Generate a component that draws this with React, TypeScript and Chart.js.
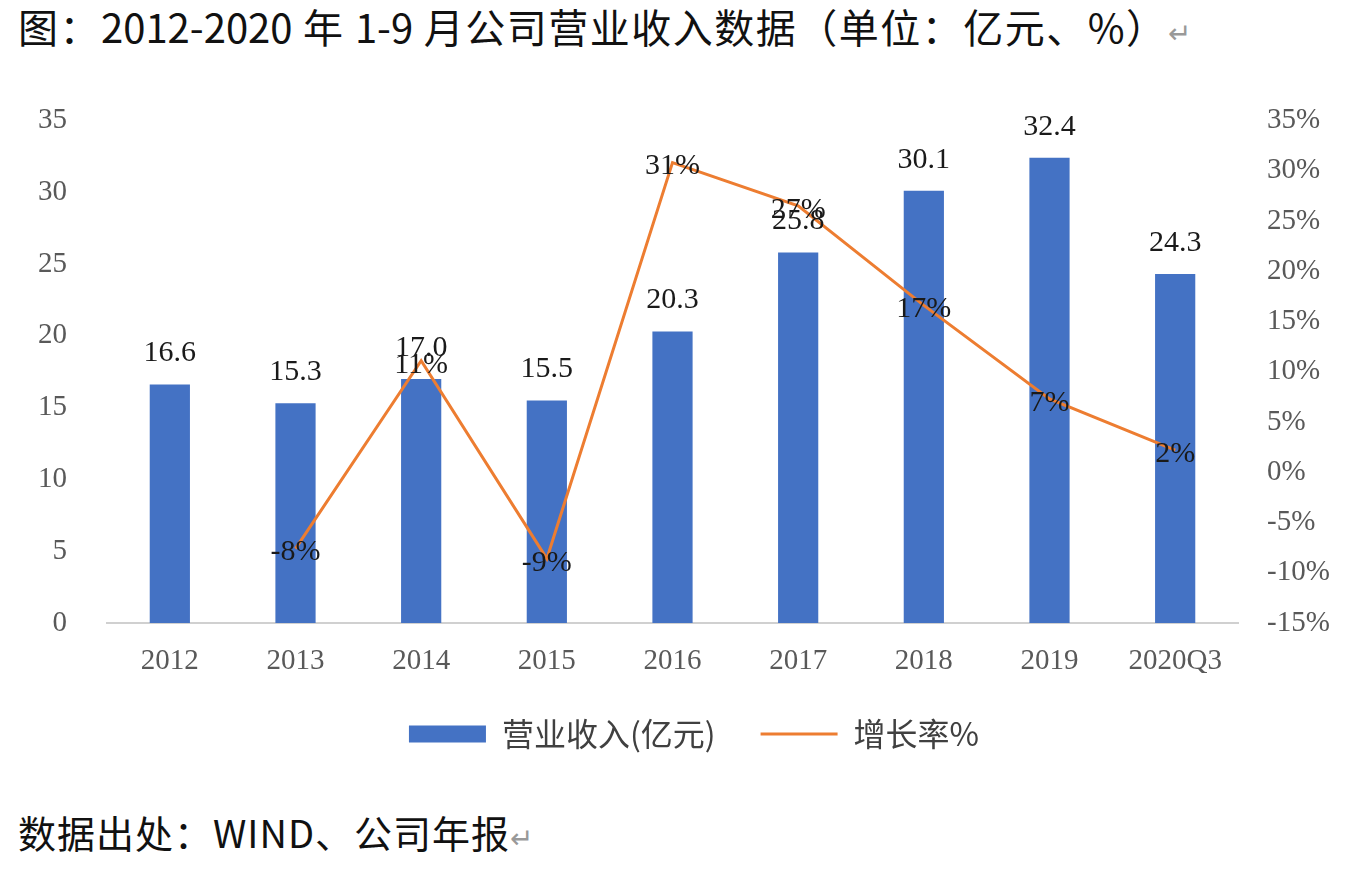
import React, { useEffect, useRef } from 'react';
import { Chart, registerables } from 'chart.js';

Chart.register(...registerables);

const years = ['2012', '2013', '2014', '2015', '2016', '2017', '2018', '2019', '2020Q3'];
const revenue = [16.6, 15.3, 17.0, 15.5, 20.3, 25.8, 30.1, 32.4, 24.3];
const growth = [null, -7.6, 11.1, -8.6, 30.8, 26.5, 16.6, 7.3, 2.2];

const BAR_COLOR = '#4472C4';
const LINE_COLOR = '#ED7D31';
const SERIF = '"Liberation Serif", "Times New Roman", serif';
const CJK = '"Noto Sans CJK SC", sans-serif';

// value labels above bars and on line points
const valueLabels = {
  id: 'valueLabels',
  afterDatasetsDraw(chart: Chart) {
    const ctx = chart.ctx;
    ctx.save();
    ctx.font = `30px ${SERIF}`;
    ctx.fillStyle = '#1a1a1a';
    ctx.textAlign = 'center';

    const barMeta = chart.getDatasetMeta(0);
    barMeta.data.forEach((el: any, i) => {
      ctx.textBaseline = 'bottom';
      ctx.fillText(revenue[i].toFixed(1), el.x, el.y - 16);
    });

    const lineMeta = chart.getDatasetMeta(1);
    lineMeta.data.forEach((el: any, i) => {
      const v = growth[i];
      if (v === null) return;
      ctx.textBaseline = 'middle';
      ctx.fillText(`${Math.round(v)}%`, el.x, el.y + 4);
    });
    ctx.restore();
  },
};

const RevenueChart = () => {
  const chartRef = useRef<HTMLCanvasElement>(null);
  const chartInstance = useRef<Chart | null>(null);

  useEffect(() => {
    document.body.style.margin = '0';
    if (!chartRef.current) return;
    const ctx = chartRef.current.getContext('2d');
    if (!ctx) return;

    if (chartInstance.current) chartInstance.current.destroy();

    chartInstance.current = new Chart(ctx, {
      type: 'bar',
      data: {
        labels: years,
        datasets: [
          {
            type: 'bar',
            label: '营业收入(亿元)',
            data: revenue,
            backgroundColor: BAR_COLOR,
            barPercentage: 0.32,
            categoryPercentage: 1,
            yAxisID: 'y',
            order: 1,
            pointStyle: 'rect',
          },
          {
            type: 'line',
            label: '增长率%',
            data: growth,
            borderColor: LINE_COLOR,
            backgroundColor: LINE_COLOR,
            borderWidth: 3,
            pointRadius: 0,
            tension: 0,
            yAxisID: 'y1',
            order: 0,
            pointStyle: 'line',
          },
        ],
      },
      options: {
        responsive: false,
        animation: false,
        layout: { padding: { top: 21, left: 0, right: 0, bottom: 0 } },
        plugins: {
          tooltip: { enabled: false },
          legend: {
            display: true,
            position: 'bottom',
            labels: {
              usePointStyle: true,
              pointStyleWidth: 77,
              boxHeight: 17,
              padding: 45,
              color: '#404040',
              font: { family: CJK, size: 32 },
              sort: (a: any, b: any) => a.datasetIndex - b.datasetIndex,
            },
          },
        },
        scales: {
          x: {
            grid: { display: false, drawTicks: false },
            border: { display: true, color: '#d0d0d0', width: 2 },
            ticks: {
              color: '#595959',
              padding: 21,
              font: { family: SERIF, size: 29 },
              maxRotation: 0,
            },
            afterFit: (scale: any) => {
              scale.height = 50;
            },
          },
          y: {
            position: 'left',
            min: 0,
            max: 35,
            grid: { display: false, drawTicks: false },
            border: { display: false },
            ticks: {
              stepSize: 5,
              padding: 40,
              color: '#595959',
              font: { family: SERIF, size: 29 },
            },
            afterFit: (scale: any) => {
              scale.width = 107;
            },
          },
          y1: {
            position: 'right',
            min: -15,
            max: 35,
            grid: { display: false, drawTicks: false },
            border: { display: false },
            ticks: {
              stepSize: 5,
              padding: 29,
              color: '#595959',
              font: { family: SERIF, size: 29 },
              callback: (v: any) => `${v}%`,
            },
            afterFit: (scale: any) => {
              scale.width = 150;
            },
          },
        },
      },
      plugins: [valueLabels],
    });

    return () => {
      if (chartInstance.current) {
        chartInstance.current.destroy();
        chartInstance.current = null;
      }
    };
  }, []);

  // canvas is a bit wider than the page so the legend centre sits where the original has it
  return (
    <div style={{ position: 'absolute', left: 0, top: 63, width: 1388, height: 697 }}>
      <canvas ref={chartRef} width={1388} height={697} />
    </div>
  );
};

export default function App() {
  const textStyle: React.CSSProperties = {
    position: 'absolute',
    left: 18,
    fontFamily: CJK,
    color: '#111',
    whiteSpace: 'nowrap',
  };
  const enter = <span style={{ color: '#999', fontSize: 28 }}>↵</span>;
  const num = (s: string) => <span style={{ letterSpacing: 0 }}>{s}</span>;
  return (
    <div style={{ position: 'relative', width: 1360, height: 878, background: '#fff', overflow: 'hidden' }}>
      <div style={{ ...textStyle, top: 2, fontSize: 40, lineHeight: '48px', letterSpacing: 1.5 }}>
        图：{num('2012-2020')} 年 {num('1-9')} 月公司营业收入数据（单位：亿元、%）{enter}
      </div>
      <RevenueChart />
      <div style={{ ...textStyle, top: 810, fontSize: 38, lineHeight: '44px', letterSpacing: 1 }}>
        数据出处：WIND、公司年报{enter}
      </div>
    </div>
  );
}
